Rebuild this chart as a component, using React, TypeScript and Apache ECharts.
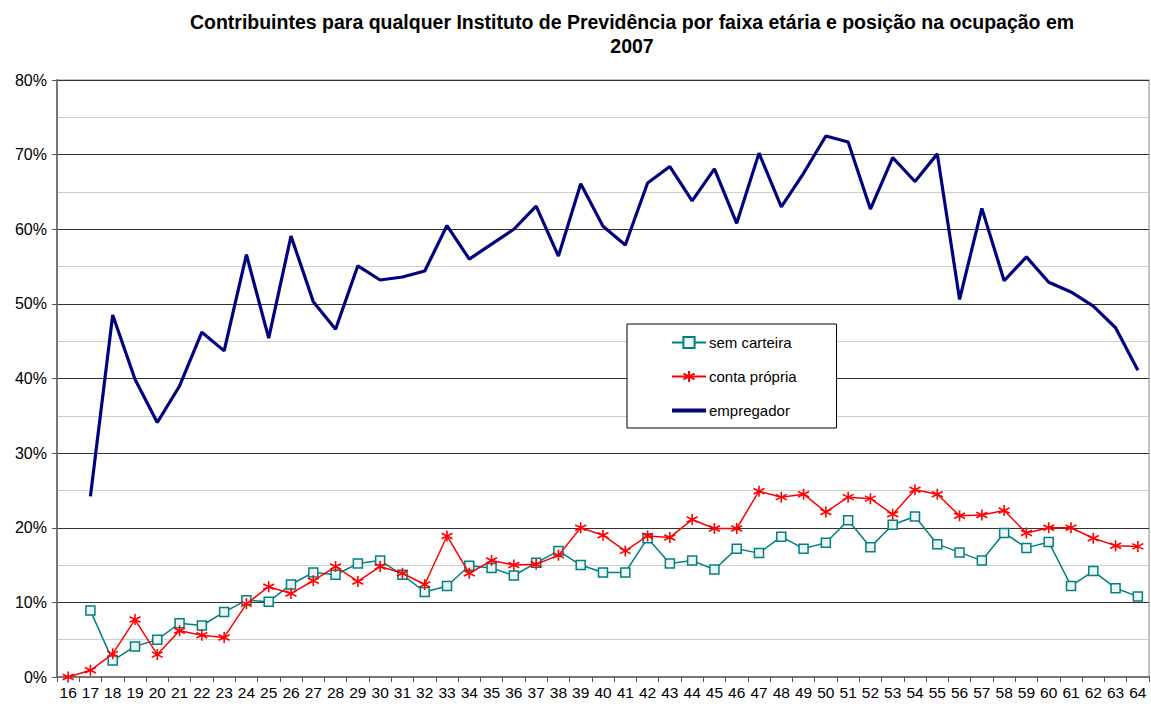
import React, { useEffect, useRef } from "react";
import * as echarts from "echarts";

const ages = ["16","17","18","19","20","21","22","23","24","25","26","27","28","29","30","31","32","33","34","35","36","37","38","39","40","41","42","43","44","45","46","47","48","49","50","51","52","53","54","55","56","57","58","59","60","61","62","63","64"];

const semCarteira = [null, 8.9, 2.2, 4.1, 5.0, 7.2, 6.9, 8.7, 10.3, 10.1, 12.4, 14.0, 13.7, 15.2, 15.6, 13.7, 11.4, 12.2, 14.9, 14.6, 13.6, 15.3, 16.9, 15.0, 14.0, 14.0, 18.6, 15.2, 15.6, 14.4, 17.2, 16.6, 18.8, 17.2, 18.0, 21.0, 17.4, 20.4, 21.5, 17.8, 16.7, 15.6, 19.3, 17.3, 18.1, 12.2, 14.2, 11.9, 10.8];

const contaPropria = [0.0, 0.9, 3.1, 7.7, 3.0, 6.2, 5.6, 5.3, 9.8, 12.1, 11.2, 12.9, 14.8, 12.8, 14.8, 13.9, 12.4, 18.9, 13.9, 15.6, 15.0, 15.1, 16.3, 20.0, 19.0, 16.9, 18.9, 18.7, 21.1, 19.9, 19.9, 24.9, 24.1, 24.5, 22.1, 24.1, 23.9, 21.8, 25.1, 24.5, 21.6, 21.7, 22.3, 19.3, 20.0, 20.0, 18.6, 17.6, 17.5];

const empregador = [null, 24.2, 48.5, 39.9, 34.1, 39.0, 46.2, 43.7, 56.6, 45.4, 59.1, 50.3, 46.6, 55.1, 53.2, 53.6, 54.4, 60.5, 56.0, 58.0, 60.0, 63.1, 56.4, 66.1, 60.4, 57.9, 66.2, 68.4, 63.8, 68.1, 60.8, 70.2, 63.0, 67.5, 72.5, 71.7, 62.7, 69.6, 66.4, 70.1, 50.6, 62.8, 53.1, 56.3, 52.9, 51.6, 49.7, 46.8, 41.1];

const yTicks = { min: 0, max: 80, interval: 10 };

const titleText = "Contribuintes para qualquer Instituto de Previdência por faixa etária e posição na ocupação em\n2007";

const FONT = "Liberation Sans, Arial, sans-serif";
const asterisk = "path://M5,0L5,10M0.7,2.5L9.3,7.5M0.7,7.5L9.3,2.5";

export default function App() {
  const ref = useRef<HTMLDivElement>(null);
  useEffect(() => {
    const chart = echarts.init(ref.current!, null, { renderer: "svg" });
    chart.setOption({
      animation: false,
      backgroundColor: "#ffffff",
      textStyle: { fontFamily: FONT },
      graphic: [
        {
          type: "text",
          x: 632,
          y: 10,
          style: {
            text: titleText,
            font: "bold 19.5px " + FONT,
            fill: "#000",
            textAlign: "center",
            lineHeight: 24,
          },
        },
      ],
      legend: {
        orient: "vertical",
        left: 627,
        top: 324,
        backgroundColor: "#fff",
        borderColor: "#000",
        borderWidth: 1,
        padding: [11, 40, 10, 44],
        itemGap: 19,
        itemWidth: 34,
        itemHeight: 14,
        textStyle: { fontSize: 15, color: "#000", fontFamily: FONT, padding: [0, 0, 0, -2] },
        data: [
          "sem carteira",
          "conta própria",
          { name: "empregador", icon: "path://M0,0L34,0L34,4L0,4Z" },
        ],
      },
      grid: {
        left: 57,
        right: 2,
        top: 80,
        bottom: 31,
        show: true,
        borderColor: "#888",
        borderWidth: 1,
      },
      xAxis: {
        type: "category",
        data: ages,
        boundaryGap: true,
        axisLine: { lineStyle: { color: "#777", width: 2 } },
        axisTick: { show: true, length: 5, lineStyle: { color: "#555" } },
        axisLabel: { interval: 0, fontSize: 15.5, color: "#000", margin: 7, fontFamily: FONT },
      },
      yAxis: {
        type: "value",
        min: yTicks.min,
        max: yTicks.max,
        interval: yTicks.interval,
        axisLine: { show: true, lineStyle: { color: "#777", width: 2 } },
        axisTick: { show: true, length: 5, lineStyle: { color: "#555" } },
        axisLabel: { formatter: "{value}%", fontSize: 16, color: "#000", margin: 10, fontFamily: FONT },
        splitLine: { show: true, lineStyle: { color: "#333", width: 1 } },
        minorTick: { show: false, splitNumber: 2 },
        minorSplitLine: { show: true, lineStyle: { color: "#cfcfcf", width: 1 } },
      },
      series: [
        {
          name: "sem carteira",
          type: "line",
          data: semCarteira,
          color: "#008080",
          symbol: "rect",
          symbolSize: 9,
          showAllSymbol: true,
          lineStyle: { color: "#008080", width: 1.5 },
          itemStyle: { color: "#eef4f4", borderColor: "#008080", borderWidth: 1.5 },
          z: 3,
        },
        {
          name: "conta própria",
          type: "line",
          data: contaPropria,
          color: "#ff0000",
          symbol: asterisk,
          symbolSize: 11,
          showAllSymbol: true,
          lineStyle: { color: "#ff0000", width: 1.5 },
          itemStyle: { color: "#ff0000", borderColor: "#ff0000", borderWidth: 1.6 },
          z: 4,
        },
        {
          name: "empregador",
          type: "line",
          data: empregador,
          color: "#000080",
          symbol: "none",
          lineStyle: { color: "#000080", width: 3.2 },
          itemStyle: { color: "#000080" },
          z: 2,
        },
      ],
    });
    return () => chart.dispose();
  }, []);
  return <div ref={ref} style={{ width: 1151, height: 708, position: "absolute", left: 0, top: 0 }} />;
}
